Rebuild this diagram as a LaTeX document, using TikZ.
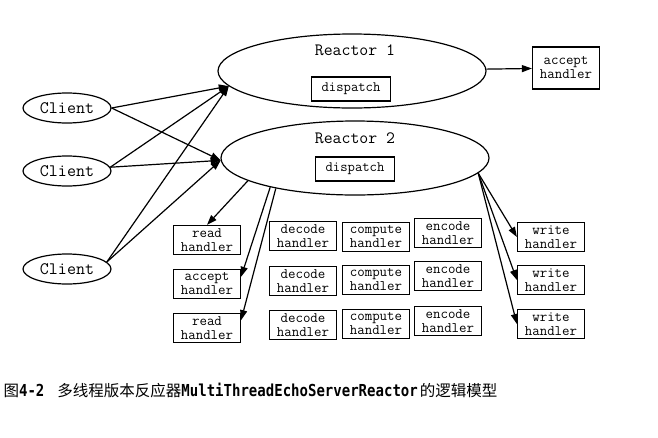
\documentclass[tikz,border=0pt]{standalone}
\usepackage{fontspec}
\newfontfamily\cjk{Noto Sans CJK SC}
\newfontfamily\capmono[FakeStretch=0.85]{DejaVu Sans Mono}
\usetikzlibrary{arrows.meta,shapes.geometric}

\begin{document}
\begin{tikzpicture}[x=1pt,y=-1pt,line width=1.2pt,
	oval/.style={draw,ellipse,inner sep=0pt},
	client/.style={oval,minimum width=88pt,minimum height=30pt,font=\ttfamily\fontsize{17.5}{17.5}\selectfont},
	reactor/.style={oval,minimum width=268pt,minimum height=74pt},
	title/.style={font=\ttfamily\fontsize{17.3}{17.3}\selectfont},
	dbox/.style={draw,minimum width=79pt,minimum height=24pt,inner sep=0pt,font=\ttfamily\fontsize{14.3}{14}\selectfont},
	hbox/.style={draw,minimum width=67pt,minimum height=29pt,inner sep=0pt,align=center,font=\ttfamily\fontsize{14.5}{14}\selectfont},
	arr/.style={-{Triangle[length=10pt,width=7pt]}}]
		\useasboundingbox (0,0) rectangle (658,437);
		
		\node [reactor] (R1) at (352,71) {};
		\node [title] (R1t) at (355,50) {Reactor 1};
		\node [dbox] (d1) at (351,89) {dispatch};
		\node [reactor] (R2) at (355,158) {};
		\node [title] (R2t) at (355,138) {Reactor 2};
		\node [dbox] (d2) at (355,169) {dispatch};
		
		\node [client] (c1) at (67,108) {Client};
		\node [client] (c2) at (67,171) {Client};
		\node [client] (c3) at (67,269) {Client};
		
		\node [hbox, minimum height=42pt] (acc1) at (566,68) {accept\\handler};
		
		\node [hbox] (rd1) at (207,240) {read\\handler};
		\node [hbox] (acc2) at (207,284) {accept\\handler};
		\node [hbox] (rd3) at (207,328) {read\\handler};
		
		\node [hbox] (dec1) at (303,236) {decode\\handler};
		\node [hbox] (dec2) at (303,281) {decode\\handler};
		\node [hbox] (dec3) at (303,325) {decode\\handler};
		\node [hbox] (cmp1) at (376,237) {compute\\handler};
		\node [hbox] (cmp2) at (376,280) {compute\\handler};
		\node [hbox] (cmp3) at (376,324) {compute\\handler};
		\node [hbox] (enc1) at (448,233) {encode\\handler};
		\node [hbox] (enc2) at (448,276) {encode\\handler};
		\node [hbox] (enc3) at (448,321) {encode\\handler};
		
		\node [hbox] (wr1) at (551,237) {write\\handler};
		\node [hbox] (wr2) at (551,280) {write\\handler};
		\node [hbox] (wr3) at (551,324) {write\\handler};
		
		\draw [arr] (c1.east) -- (R1.187);
		\draw [arr] (c1.east) -- (R2.181);
		\draw [arr] (c2.5) -- (R1.187);
		\draw [arr] (c2.5) -- (R2.181);
		\draw [arr] (c3.10) -- (R1.187);
		\draw [arr] (c3.10) -- (R2.181);
		\draw [arr] (R1) -- (acc1);
		\draw [arr] (R2.192) -- (rd1.north);
		\draw [arr] (R2.199) -- (acc2.12);
		\draw [arr] (R2.201) -- (rd3.13);
		\draw [arr] (R2.-7) -- (wr1.west);
		\draw [arr] (R2.-7) -- (wr2.west);
		\draw [arr] (R2.-7) -- (wr3.west);
		
		\node [anchor=west, inner sep=0pt] (cap) at (3,390) {\fontsize{15.5}{16}\selectfont{\cjk 图}{\capmono\bfseries\fontsize{16.5}{16}\selectfont 4-2}\hspace{13pt}{\cjk 多线程版本反应器}{\capmono\bfseries\fontsize{16.5}{16}\selectfont MultiThreadEchoServerReactor}\hspace{2pt}{\cjk 的逻辑模型}};
		
\end{tikzpicture}
\end{document}
